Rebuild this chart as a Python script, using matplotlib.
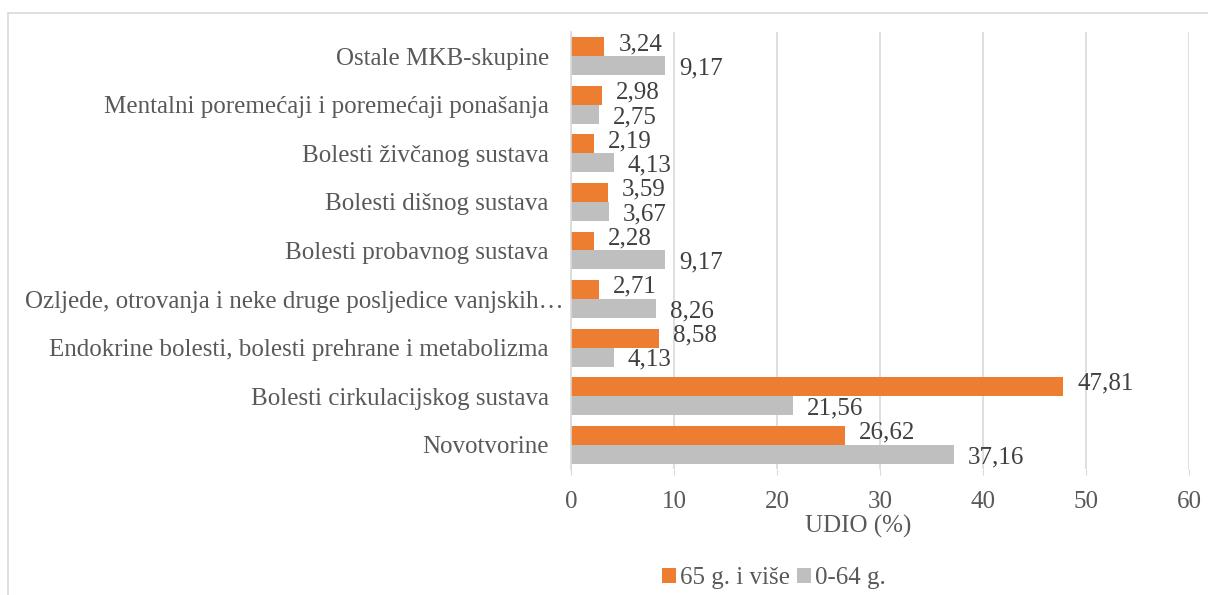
import matplotlib.pyplot as plt
from matplotlib.patches import Rectangle
from matplotlib.transforms import ScaledTranslation
import numpy as np

categories = [
    "Novotvorine",
    "Bolesti cirkulacijskog sustava",
    "Endokrine bolesti, bolesti prehrane i metabolizma",
    "Ozljede, otrovanja i neke druge posljedice vanjskih…",
    "Bolesti probavnog sustava",
    "Bolesti dišnog sustava",
    "Bolesti živčanog sustava",
    "Mentalni poremećaji i poremećaji ponašanja",
    "Ostale MKB-skupine",
]
stariji = [26.62, 47.81, 8.58, 2.71, 2.28, 3.59, 2.19, 2.98, 3.24]
mladji = [37.16, 21.56, 4.13, 8.26, 9.17, 3.67, 4.13, 2.75, 9.17]
series_names = ["65 g. i više", "0-64 g."]

ORANGE = "#ED7D31"
GRAY = "#BFBFBF"
TXT = "#595959"
FS = 18

plt.rcParams["font.family"] = ["Liberation Serif", "DejaVu Serif"]

fig = plt.figure(figsize=(12.08, 5.95), dpi=100)
fig.patches.append(Rectangle((8 / 1208, -0.1), 1.2, 1 - 13 / 595 + 0.1,
                             transform=fig.transFigure, fill=False,
                             edgecolor="#D9D9D9", linewidth=1.2))
ax = fig.add_axes([571 / 1208, 1 - 469 / 595, (1189 - 571) / 1208, (469 - 32) / 595])

y = np.arange(len(categories))
h = 0.39
b1 = ax.barh(y + h / 2, stariji, height=h, color=ORANGE, label=series_names[0])
b2 = ax.barh(y - h / 2, mladji, height=h, color=GRAY, label=series_names[1])

# orange labels nudged up, gray down, so the pairs do not collide
for bars, vals, dy in ((b1, stariji, 2), (b2, mladji, -2)):
    for bar, v in zip(bars, vals):
        ax.annotate(f"{v:.2f}".replace(".", ","),
                    (bar.get_width(), bar.get_y() + bar.get_height() / 2),
                    xytext=(10, dy), textcoords="offset points",
                    va="center", ha="left", fontsize=FS, color="#404040")

ax.set_xlim(0, 60)
ax.set_ylim(-0.5, len(categories) - 0.5)
ax.set_xticks(range(0, 61, 10))
ax.set_yticks(y)
ax.set_yticklabels(categories)
ax.tick_params(axis="y", length=0, pad=16, labelsize=FS, labelcolor=TXT)
ax.tick_params(axis="x", length=4, color="#D9D9D9", pad=12, labelsize=FS, labelcolor=TXT)

# the truncated label runs a bit past the others in the original
lbl = ax.get_yticklabels()[3]
lbl.set_transform(lbl.get_transform() + ScaledTranslation(0.15, 0, fig.dpi_scale_trans))

ax.grid(axis="x", color="#D9D9D9", linewidth=1.2)
ax.set_axisbelow(True)
for s in ("top", "right", "bottom"):
    ax.spines[s].set_visible(False)
ax.spines["left"].set_color("#D9D9D9")
ax.spines["left"].set_linewidth(1.2)
ax.set_xlabel("UDIO (%)", fontsize=FS, color=TXT)
ax.xaxis.set_label_coords((858 - 571) / (1189 - 571), -0.105)

fig.legend(handles=[b1, b2], loc="center", bbox_to_anchor=(774 / 1208, 1 - 578 / 595),
           ncol=2, frameon=False, fontsize=FS, labelcolor=TXT,
           handlelength=0.55, handleheight=0.55, handletextpad=0.15,
           columnspacing=0.3, borderpad=0.2)

fig.savefig("out.png", dpi=100)
